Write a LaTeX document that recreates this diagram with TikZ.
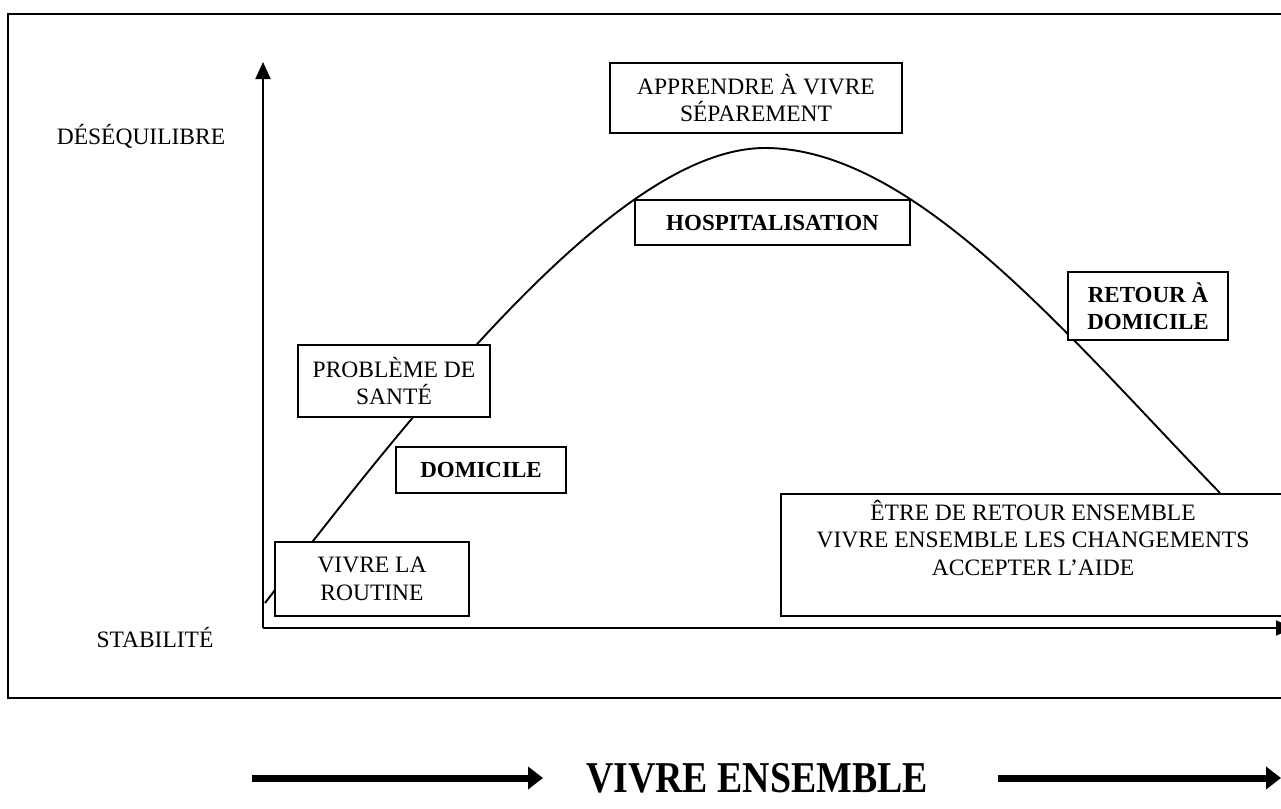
\documentclass[tikz,border=0pt]{standalone}
\usepackage{fontspec}
\setmainfont{Liberation Serif}
\usetikzlibrary{arrows.meta}
\tikzset{
  lbl/.style={inner sep=0pt, font=\fontsize{23.5}{27.5}\selectfont},
  boxn/.style={draw, line width=1.8pt, fill=white, inner sep=0pt, align=center,
     font=\fontsize{23.5}{27.5}\selectfont},
  boldbox/.style={boxn, font=\fontsize{23}{27.5}\selectfont\bfseries},
  axis/.style={line width=1.9pt, -{Triangle[length=17pt,width=15pt]}},
  curve/.style={line width=1.9pt},
  bigarrow/.style={line width=7pt, -{Triangle[length=15pt,width=22pt]}}
}
\begin{document}
\begin{tikzpicture}[x=1pt,y=-1pt]
\useasboundingbox (0,0) rectangle (1281,808);
\clip (0,0) rectangle (1281,808);
\fill[white] (0,0) rectangle (1281,808);
% outer frame
\draw[line width=2.4pt] (8,14) rectangle (1300,698);
% axes
\coordinate (o) at (263,628);
\coordinate (ytop) at (263,62);
\coordinate (xend) at (1293,628);
\draw[axis] (o) -- (ytop);
\draw[axis] (o) -- (xend);
% curve
\coordinate (cstart) at (265,603);
\coordinate (cpeak) at (765,148);
\coordinate (cend) at (1220,493);
\draw[curve] (cstart) .. controls (435,382) and (625,148) .. (cpeak)
                      .. controls (915,148) and (1070,338.5) .. (cend);
% axis labels
\node[lbl, anchor=base] (deseq) at (141,144) {DÉSÉQUILIBRE};
\node[lbl, anchor=base] (stab) at (155,647) {STABILITÉ};
% boxes
\node[boxn, minimum width=292pt, minimum height=70pt] (appr) at (756,98) {APPRENDRE À VIVRE\\SÉPAREMENT};
\node[boldbox, minimum width=275pt, minimum height=45pt] (hosp) at (772.5,222.5) {HOSPITALISATION};
\node[boldbox, minimum width=160pt, minimum height=68pt] (retour) at (1148,306) {RETOUR À\\DOMICILE};
\node[boxn, minimum width=192pt, minimum height=72pt] (prob) at (394,381) {PROBLÈME DE\\SANTÉ};
\node[boldbox, minimum width=170pt, minimum height=46pt] (domi) at (481,470) {DOMICILE};
\node[boxn, minimum width=194pt, minimum height=74pt] (rout) at (372,579) {VIVRE LA\\ROUTINE};
\node[boxn, anchor=north west, minimum width=520pt, minimum height=122pt] (etre) at (780,493) {};
\node[lbl, align=center, anchor=north] (etretxt) at (1033,500) {ÊTRE DE RETOUR ENSEMBLE\\VIVRE ENSEMBLE LES CHANGEMENTS\\ACCEPTER L’AIDE};
% bottom
\coordinate (a1s) at (252,778);
\coordinate (a1e) at (543,778);
\coordinate (a2s) at (998,778);
\coordinate (a2e) at (1281,778);
\draw[bigarrow] (a1s) -- (a1e);
\draw[bigarrow] (a2s) -- (a2e);
\node[inner sep=0pt, anchor=base, font=\fontsize{44}{48}\selectfont\bfseries] (vivre) at (757,792) {\scalebox{0.86}[1]{VIVRE ENSEMBLE}};
\end{tikzpicture}
\end{document}
